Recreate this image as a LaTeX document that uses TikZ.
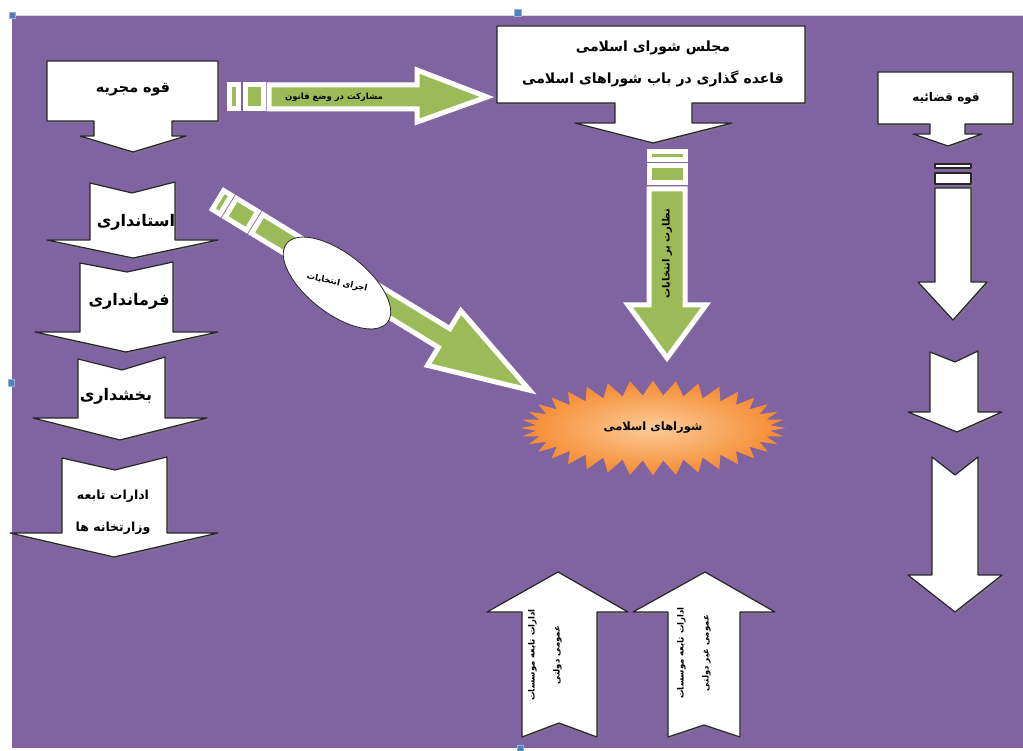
\documentclass[tikz,border=0pt]{standalone}
\usepackage{fontspec}
\usepackage{tikz}
\usetikzlibrary{shapes.symbols,shapes.geometric,shadows}

\newfontfamily\arabicfont[Script=Arabic]{DejaVu Sans}
\TeXXeTstate=1
\newcommand{\rtl}[1]{\beginR #1\endR}

\definecolor{bgpurple}{HTML}{8064A2}
\definecolor{arrowgreen}{HTML}{9BBB59}
\definecolor{burstlight}{HTML}{FCCB98}
\definecolor{burstdark}{HTML}{F58A30}
\definecolor{handleblue}{HTML}{4F81BD}

\begin{document}
\begin{tikzpicture}[x=1pt,y=-1pt,
    whiteshape/.style={fill=white,draw=black!85,line width=1.2pt,line join=round,
      drop shadow={shadow xshift=2pt,shadow yshift=-2pt,opacity=.45}},
    greenshape/.style={fill=arrowgreen,draw=white,line width=5pt,line join=miter,
      drop shadow={shadow xshift=3pt,shadow yshift=-3pt,opacity=.3}},
    handle/.style={fill=handleblue,draw=handleblue!60!white,line width=.5pt},
    lbl/.style={font=\arabicfont\bfseries\fontsize{#1}{32}\selectfont,align=center,inner sep=0pt},
    lbl/.default=12,
    vlbl/.style={font=\arabicfont\bfseries\fontsize{8.5}{25}\selectfont,align=center,inner sep=0pt},
    smalllbl/.style={font=\arabicfont\bfseries\fontsize{#1}{20}\selectfont,align=center,inner sep=0pt},
    smalllbl/.default=8]

    % page and background
    \useasboundingbox (0,0) rectangle (1023,751);
    \fill[white] (0,0) rectangle (1023,751);
    \fill[bgpurple] (12,15) rectangle (1023,748);
    \draw[black!15,line width=.6pt] (12,15) -- (1023,15);

    % selection handles
    \path[handle] (9,12) rectangle (15,18);
    \path[handle] (514,9) rectangle (521,16);
    \path[handle] (8,379) rectangle (14,386);
    \path[handle] (517,745) rectangle (523,751);

    % executive column
    \path[whiteshape] (47,61) -- (218,61) -- (218,121) -- (172,121) -- (172,136) -- (186,136)
        -- (133,152) -- (80,136) -- (94,136) -- (94,121) -- (47,121) -- cycle;
    \node[lbl=14.4] (exec) at (133,90) {\rtl{قوه مجریه}};

    \path[whiteshape] (90,183) -- (132,193) -- (175,182) -- (175,240) -- (218,240)
        -- (133,258) -- (47,240) -- (90,240) -- cycle;
    \node[lbl=16] (ostandari) at (136,222) {\rtl{استانداری}};

    \path[whiteshape] (80,263) -- (127,272) -- (173,262) -- (173,332) -- (218,332)
        -- (126,352) -- (35,332) -- (80,332) -- cycle;
    \node[lbl=16] (farmandari) at (129,301) {\rtl{فرمانداری}};

    \path[whiteshape] (78,359) -- (122,370) -- (165,357) -- (165,418) -- (207,418)
        -- (120,440) -- (33,418) -- (78,418) -- cycle;
    \node[lbl=16] (bakhshdari) at (116,396) {\rtl{بخشداری}};

    \path[whiteshape] (62,458) -- (115,470) -- (167,457) -- (167,533) -- (218,533)
        -- (114,557) -- (10,533) -- (62,533) -- cycle;
    \node[lbl=12.5] (edarat) at (113,512) {\rtl{ادارات تابعه}\\\rtl{وزارتخانه ها}};

    % parliament
    \path[whiteshape] (497,26) -- (805,26) -- (805,103) -- (692,103) -- (692,123) -- (732,123)
        -- (653,143) -- (575,123) -- (615,123) -- (615,103) -- (497,103) -- cycle;
    \node[lbl=14] (majlis) at (653,64) {\rtl{مجلس شورای اسلامی}\\\rtl{قاعده گذاری در باب شوراهای اسلامی}};

    % judiciary column
    \path[whiteshape] (878,72) -- (1013,72) -- (1013,124) -- (965,124) -- (965,134) -- (982,134)
        -- (948,146) -- (913,134) -- (930,134) -- (930,124) -- (878,124) -- cycle;
    \node[lbl] (judiciary) at (946,98) {\rtl{قوه قضائیه}};

    \path[whiteshape] (935,164) rectangle (971,168);
    \path[whiteshape] (935,173) rectangle (971,184);
    \path[whiteshape] (935,188) -- (971,188) -- (971,282) -- (987,282) -- (953,320)
        -- (918,282) -- (935,282) -- cycle;
    \path[whiteshape] (930,352) -- (955,362) -- (978,351) -- (978,412) -- (1002,412)
        -- (957,432) -- (908,412) -- (930,412) -- cycle;
    \path[whiteshape] (932,457) -- (955,475) -- (978,457) -- (978,575) -- (1002,575)
        -- (955,612) -- (908,575) -- (932,575) -- cycle;

    % green arrows
    \path[greenshape] (229,85) rectangle (238,109);
    \path[greenshape] (245,85) rectangle (263,109);
    \path[greenshape] (269,85) -- (417,85) -- (417,70) -- (487,97) -- (417,122)
        -- (417,109) -- (269,109) -- cycle;
    \node[smalllbl=8.5] (mosharekat) at (334,97) {\rtl{مشارکت در وضع قانون}};

    \path[greenshape] (649,152) rectangle (685,160);
    \path[greenshape] (649,166) rectangle (685,183);
    \path[greenshape] (649,189) -- (685,189) -- (685,305) -- (706,305) -- (667,358)
        -- (628,305) -- (649,305) -- cycle;
    \node[smalllbl=10,rotate=90] (nezarat) at (667,254) {\rtl{نظارت بر انتخابات}};

    \begin{scope}[shift={(218,200)},rotate=-31.4]
        \path[greenshape] (0,-11) rectangle (9,11);
        \path[greenshape] (15,-11) rectangle (40,11);
        \path[greenshape] (46,-11) -- (265,-11) -- (265,-32) -- (365,0) -- (265,32)
            -- (265,11) -- (46,11) -- cycle;
    \end{scope}
    \node[ellipse,fill=white,draw=black!85,line width=.8pt,minimum width=128pt,
        minimum height=60pt,rotate=-38] (ejraoval) at (337,283) {};
    \node[smalllbl=8.5,rotate=-12] (ejra) at (ejraoval.center) {\rtl{اجرای انتخابات}};

    % councils
    \node[starburst,starburst points=36,starburst point height=15pt,random starburst=0,
        minimum width=265pt,minimum height=95pt,inner color=burstlight,outer color=burstdark,
        smalllbl=11.5] (shoraha) at (653,428) {\rtl{شوراهای اسلامی}};

    % public institutions
    \path[whiteshape] (558,572) -- (628,612) -- (597,612) -- (597,737) -- (559,723)
        -- (522,737) -- (522,612) -- (487,612) -- cycle;
    \node[vlbl,rotate=90] (dowlati) at (545,655) {\rtl{ادارات تابعه موسسات}\\\rtl{عمومی دولتی}};

    \path[whiteshape] (705,572) -- (775,612) -- (740,612) -- (740,737) -- (704,725)
        -- (668,737) -- (668,612) -- (633,612) -- cycle;
    \node[vlbl,rotate=90] (gheyrdowlati) at (694,653) {\rtl{ادارات تابعه موسسات}\\\rtl{عمومی غیر دولتی}};
\end{tikzpicture}
\end{document}
